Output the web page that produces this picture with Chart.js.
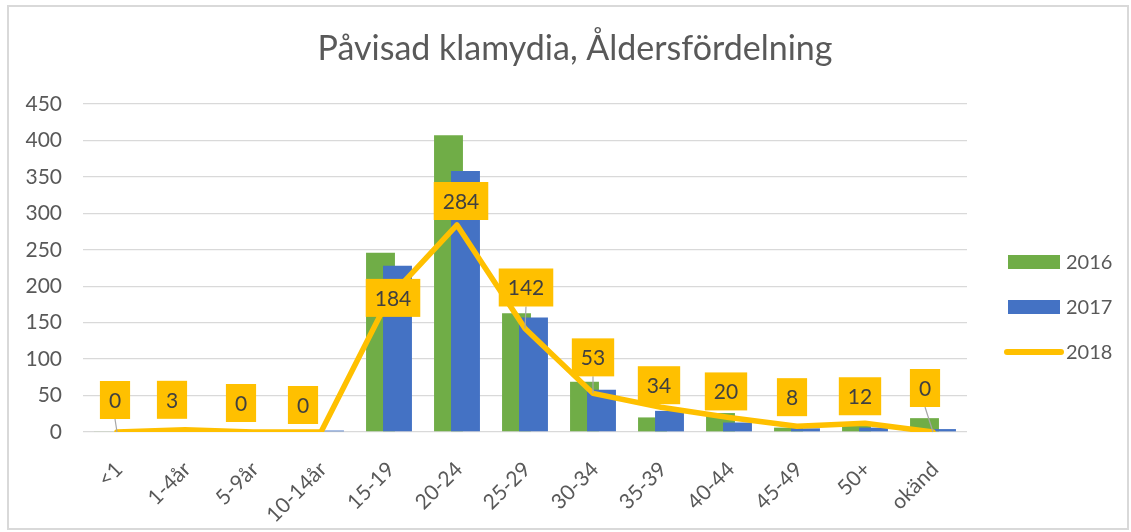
<!DOCTYPE html>
<html>
<head>
<meta charset="utf-8">
<script src="https://cdn.jsdelivr.net/npm/chart.js@4.4.1/dist/chart.umd.min.js"></script>
<style>
  html, body { margin: 0; padding: 0; background: #fff; }
  #wrap {
    position: absolute; left: 7px; top: 5px;
    width: 1122px; height: 525px;
    box-sizing: border-box; border: 2px solid #d9d9d9;
  }
</style>
</head>
<body>
<div id="wrap"><canvas id="chart"></canvas></div>
<script>
const categories = ['<1', '1-4år', '5-9år', '10-14år', '15-19', '20-24', '25-29', '30-34', '35-39', '40-44', '45-49', '50+', 'okänd'];
const values2016 = [1, 0, 0, 0, 246, 407, 163, 69, 20, 26, 6, 12, 19];
const values2017 = [0, 0, 0, 2, 228, 358, 157, 58, 29, 13, 5, 6, 4];
const values2018 = [0, 3, 0, 0, 184, 284, 142, 53, 34, 20, 8, 12, 0];
const seriesNames = ['2016', '2017', '2018'];
const yTicks = [0, 50, 100, 150, 200, 250, 300, 350, 400, 450];
const chartTitle = 'Påvisad klamydia, Åldersfördelning';

// where each 2018 label box sits relative to its point (moved by hand in the original)
const labelNudge = [[-2, -32], [-13, -30], [-12, -29], [-18, -27], [4, 0], [4, -24], [1, -41],
                    [0, -36], [-2, -22], [-3, -26], [-5, -29], [-5, -27], [-8, -44]];

const FONT = 'Lato, "Open Sans", sans-serif';
const TEXT = '#595959';
const GREEN = '#70AD47';
const BLUE = '#4472C4';
const GOLD = '#FFC000';

// blue bars overlap the green ones, so blue is drawn after green
const barOrder = {
    id: 'barOrder',
    beforeDatasetDraw(chart, args) {
        if (args.index === 1) return false;
    },
    afterDatasetDraw(chart, args) {
        if (args.index === 0) chart.getDatasetMeta(1).controller.draw();
    }
};

const extras = {
    id: 'extras',
    afterDatasetsDraw(chart) {
        const c = chart.ctx;
        const meta = chart.getDatasetMeta(2);
        c.save();
        c.font = '21px ' + FONT;
        c.textAlign = 'center';
        c.textBaseline = 'middle';
        meta.data.forEach((pt, i) => {
            const txt = String(values2018[i]);
            const w = c.measureText(txt).width + 18;
            const h = 38;
            const cx = pt.x + labelNudge[i][0];
            const cy = pt.y + labelNudge[i][1];
            const bottom = cy + h / 2;
            if (pt.y - bottom > 11) {
                c.strokeStyle = '#a6a6a6';
                c.lineWidth = 1.2;
                c.beginPath();
                c.moveTo(cx, bottom);
                c.lineTo(pt.x, pt.y);
                c.stroke();
            }
            c.fillStyle = GOLD;
            c.fillRect(cx - w / 2, cy - h / 2, w, h);
            c.fillStyle = '#404040';
            c.fillText(txt, cx, cy + 1);
        });
        c.restore();
    },
    afterDraw(chart) {
        const c = chart.ctx;
        c.save();
        // title
        c.fillStyle = TEXT;
        c.font = '34px ' + FONT;
        c.textAlign = 'center';
        c.textBaseline = 'middle';
        c.fillText(chartTitle, 566, 42);
        // legend
        const colors = [GREEN, BLUE, GOLD];
        c.font = '20px ' + FONT;
        c.textAlign = 'left';
        seriesNames.forEach((name, i) => {
            const y = 255 + i * 45;
            if (i < 2) {
                c.fillStyle = colors[i];
                c.fillRect(999, y - 7, 52, 14);
            } else {
                c.strokeStyle = colors[i];
                c.lineWidth = 6;
                c.lineCap = 'round';
                c.beginPath();
                c.moveTo(998, y);
                c.lineTo(1052, y);
                c.stroke();
            }
            c.fillStyle = TEXT;
            c.fillText(name, 1057, y + 1);
        });
        c.restore();
    }
};

const ctx = document.getElementById('chart');
const chart = new Chart(ctx, {
    type: 'bar',
    data: {
        labels: categories,
        datasets: [{
            label: seriesNames[0],
            data: values2016,
            backgroundColor: GREEN,
            categoryPercentage: 0.5,
            barPercentage: 1.7
        }, {
            label: seriesNames[1],
            data: values2017,
            backgroundColor: BLUE,
            categoryPercentage: 0.5,
            barPercentage: 1.7
        }, {
            type: 'line',
            label: seriesNames[2],
            data: values2018,
            borderColor: GOLD,
            backgroundColor: GOLD,
            borderWidth: 5.5,
            pointRadius: 0,
            tension: 0,
            borderCapStyle: 'round',
            borderJoinStyle: 'round',
            order: -1
        }]
    },
    options: {
        responsive: true,
        maintainAspectRatio: false,
        animation: false,
        layout: { padding: { top: 97, right: 160, bottom: 0, left: 0 } },
        plugins: {
            legend: { display: false },
            title: { display: false },
            tooltip: { enabled: false }
        },
        scales: {
            x: {
                grid: { display: false },
                border: { display: false },
                ticks: {
                    color: TEXT,
                    font: { family: FONT, size: 21 },
                    minRotation: 45,
                    maxRotation: 45,
                    padding: 17,
                    labelOffset: 2
                },
                afterFit(scale) { scale.height = 96; }
            },
            y: {
                min: 0,
                max: 450,
                afterBuildTicks(scale) { scale.ticks = yTicks.map(v => ({ value: v })); },
                grid: { color: '#d9d9d9', lineWidth: 1.3, drawTicks: false },
                border: { display: false },
                ticks: {
                    color: TEXT,
                    font: { family: FONT, size: 21 },
                    padding: 21
                },
                afterFit(scale) { scale.width = 74; }
            }
        }
    },
    plugins: [barOrder, extras]
});
</script>
</body>
</html>
